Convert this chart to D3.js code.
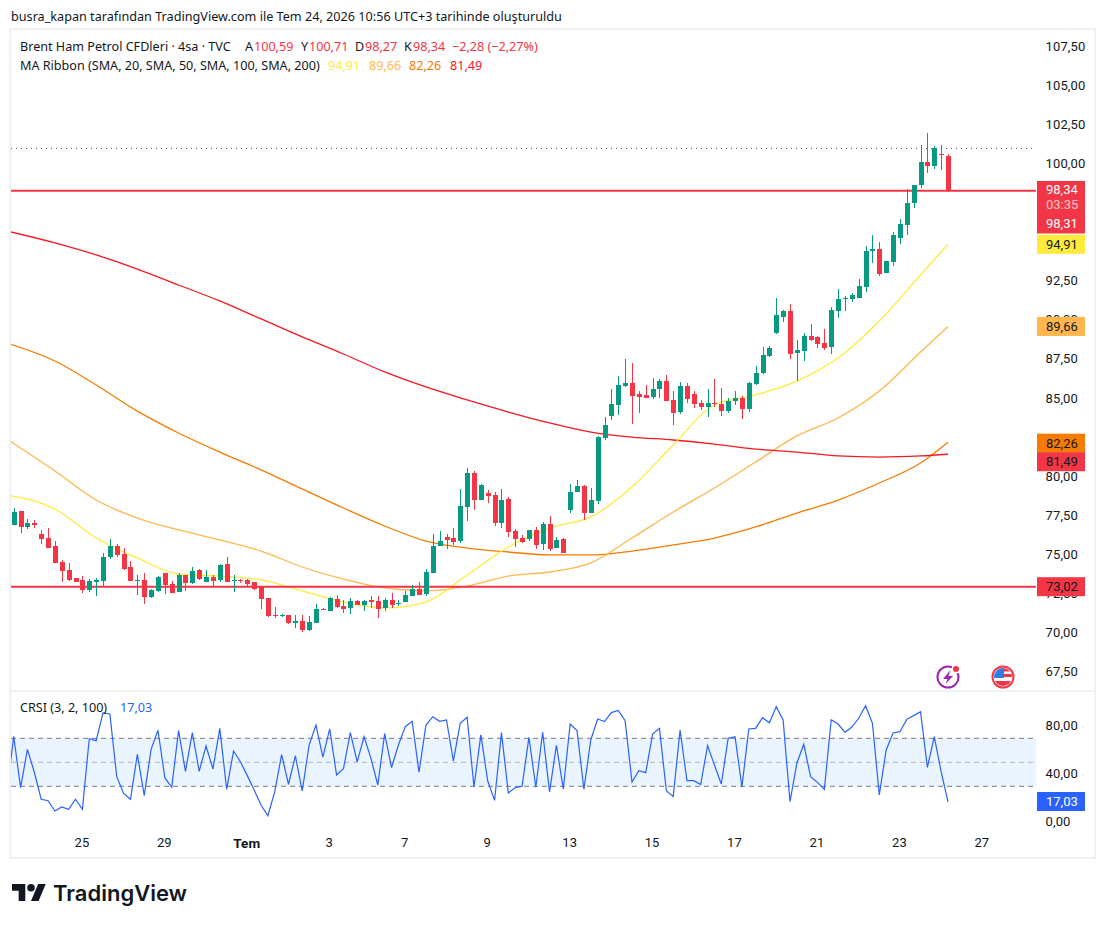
<!DOCTYPE html>
<html>
<head>
<meta charset="utf-8">
<title>Brent Ham Petrol CFDleri</title>
<script src="https://cdn.jsdelivr.net/npm/d3@7"></script>
<style>
  html, body { margin: 0; padding: 0; background: #fff; }
  svg { display: block; }
  text { font-family: "Noto Sans", Roboto, sans-serif; font-size: 12.6px; fill: #131722; }
  .axis text { fill: #131722; font-size: 13px; font-family: Roboto, sans-serif; letter-spacing: 0.15px; }
  .axis path, .axis line { display: none; }
</style>
</head>
<body>
<svg id="chart" width="1106" height="925"></svg>
<script>
// candles, bar 0 is the first one on the left
const opens = [76.96,77.86,76.83,77.09,76.39,76.13,75.62,74.60,74.08,73.57,73.45,72.81,73.32,73.38,74.92,75.62,75.11,74.28,73.38,73.45,72.36,72.74,73.89,73.19,72.68,73.77,73.25,74.08,73.32,73.64,73.45,74.47,73.38,73.47,73.45,73.32,73.00,72.29,71.21,71.14,71.21,70.70,70.82,70.25,70.70,71.61,71.46,72.23,71.78,71.66,72.10,71.85,72.17,72.10,71.66,72.17,71.91,72.04,72.42,72.87,72.55,73.89,75.62,76.19,76.13,75.94,78.12,80.29,78.57,79.01,78.88,77.09,78.63,76.58,76.13,76.07,76.65,75.75,77.03,75.50,76.07,77.93,79.08,79.46,77.73,78.50,82.52,83.93,84.63,85.85,86.04,85.34,85.27,85.15,85.66,86.17,84.95,84.19,85.85,85.34,84.76,84.51,84.76,84.70,84.25,84.89,85.08,84.38,85.98,86.68,87.77,89.24,90.26,90.65,87.96,88.09,89.05,88.99,88.60,88.35,90.65,91.42,91.42,91.48,92.18,94.48,94.61,93.08,93.78,95.31,96.15,97.55,98.70,100.17,99.92,100.69,100.59];
const highs = [78.05,77.86,77.35,77.28,76.64,76.77,75.94,74.72,74.53,73.57,73.70,73.51,73.57,75.17,76.07,75.75,75.49,74.66,73.77,73.89,72.87,73.70,73.89,73.38,73.89,73.77,74.28,74.15,74.08,73.77,74.47,74.92,73.77,73.53,73.51,73.32,73.00,72.29,71.72,71.27,71.21,71.21,71.21,71.14,71.91,71.66,72.36,72.49,72.17,72.29,72.17,72.17,72.42,72.42,72.29,72.61,72.17,72.74,73.13,73.32,74.15,76.39,76.58,76.39,76.77,79.27,80.61,80.42,79.59,79.20,79.08,79.27,78.76,76.71,76.33,76.65,76.84,77.16,77.54,76.20,76.14,79.59,79.84,79.52,79.33,82.66,83.87,85.66,86.49,87.58,87.32,85.53,85.91,86.36,86.30,86.55,85.53,86.10,86.04,85.53,84.95,85.66,86.30,85.72,85.08,85.53,85.21,86.10,87.13,88.34,88.41,91.48,90.71,91.10,88.79,89.24,89.82,89.05,89.50,90.90,92.06,91.61,91.80,92.69,94.80,95.51,95.06,93.84,95.70,96.53,98.45,98.70,101.26,102.03,101.20,101.26,100.71];
const lows = [76.96,76.47,76.71,76.79,75.75,75.49,74.53,73.32,73.38,73.32,72.61,72.68,72.42,73.06,74.79,74.92,74.08,73.38,72.49,71.91,72.29,72.68,72.55,72.61,72.68,72.74,73.19,73.45,73.32,73.00,73.32,73.32,72.68,73.28,73.06,72.81,71.59,71.08,71.02,71.08,70.63,70.38,70.12,70.18,70.70,71.53,71.46,71.66,71.34,71.27,71.85,71.46,71.66,71.02,71.46,71.66,71.78,72.04,72.42,72.49,72.42,73.89,75.62,75.43,75.68,75.81,77.22,77.93,78.57,78.37,76.90,76.77,76.20,75.56,75.82,75.94,75.43,75.37,75.30,75.50,75.18,77.73,79.08,77.29,77.73,78.31,82.40,83.68,84.00,85.78,83.42,84.12,85.08,85.02,85.08,84.89,83.36,84.06,84.76,84.44,84.31,83.87,84.51,83.93,84.12,84.63,83.74,84.19,85.91,86.62,87.70,89.18,89.95,87.58,86.17,87.45,88.73,88.28,88.15,87.90,90.20,90.65,91.22,91.48,91.86,93.72,92.89,93.08,93.53,94.93,95.51,97.23,98.51,99.47,99.73,99.66,98.27];
const closes = [77.79,76.86,77.09,76.96,76.07,75.49,74.53,74.02,73.45,73.32,72.81,73.38,73.45,74.92,75.62,75.04,74.15,73.38,73.45,72.36,72.81,73.64,73.13,72.61,73.77,73.25,74.02,73.51,73.64,73.38,74.40,73.32,73.45,73.38,73.19,72.89,72.23,71.14,71.14,71.21,70.70,70.82,70.25,70.76,71.59,71.53,72.29,71.72,71.59,72.10,71.85,72.10,72.04,71.59,72.17,71.85,71.98,72.49,72.87,72.49,73.96,75.62,75.94,76.00,75.88,78.18,80.29,78.57,79.52,78.82,77.09,78.57,76.52,76.07,75.88,76.65,75.69,77.03,75.43,76.01,75.18,79.08,79.46,77.73,78.57,82.59,83.36,84.70,85.91,86.04,85.21,85.15,85.08,85.66,86.17,84.89,84.12,85.85,85.02,84.70,84.51,84.76,84.70,84.25,84.89,85.08,84.38,86.04,86.68,87.83,88.28,90.39,90.65,87.90,88.15,89.05,88.79,88.54,88.28,90.71,91.42,91.48,91.67,92.25,94.48,94.61,93.01,93.84,95.51,96.21,97.55,98.70,100.17,99.92,101.07,100.62,98.34];

const maBars = [-1,6,12,18,24,30,36,42,48,54,60,66,72,78,84,90,96,102,108,114,120,126,132,136];
const ma20 = [78.88,77.99,76.13,74.86,73.83,73.70,73.45,72.75,72.04,71.66,72.04,73.77,75.56,76.77,77.48,79.39,82.08,84.64,85.28,86.17,87.64,90.01,92.95,94.91];
const ma50 = [82.46,80.42,78.56,77.41,76.65,76.01,75.30,74.28,73.51,72.94,72.75,73.06,73.70,73.96,74.54,76.13,77.80,79.33,80.99,82.66,83.81,85.53,88.03,89.66];
const ma100 = [88.60,87.45,85.92,84.25,82.85,81.63,80.49,79.27,78.05,76.90,75.94,75.49,75.24,75.05,75.05,75.30,75.69,76.13,76.84,77.73,78.56,79.65,80.93,82.26];
const ma200 = [95.76,95.00,94.23,93.33,92.31,91.29,90.14,88.99,87.90,86.75,85.79,84.96,84.19,83.49,82.91,82.59,82.40,82.14,81.82,81.63,81.38,81.31,81.38,81.49];

// CRSI, from bar -1 up to the last bar
const crsi = [24,71.7,28.9,60.8,41.7,19.2,18.0,9.4,12.8,10.8,19.2,10.8,69.7,68.0,91.1,90.3,38.0,24.1,19.2,56.7,22.2,60.8,76.7,37.2,29.2,76.4,42.5,74.7,42.5,63.6,44.4,78.3,27.5,59.4,50.5,38.9,26.9,14.4,5.5,25.5,56.4,31.7,55.3,26.1,64.4,81.1,54.4,77.8,39.4,44.7,74.7,50.3,71.4,53.3,31.1,73.9,45.5,64.4,79.7,84.2,41.7,80.8,88.0,84.2,85.3,51.1,82.5,87.5,29.4,72.8,34.4,18.3,74.7,24.4,28.9,30.0,70.8,29.2,75.0,25.3,64.2,27.8,81.9,76.4,27.5,68.6,86.1,83.9,91.4,93.3,84.7,33.6,43.0,41.4,73.6,78.3,26.4,21.4,76.9,34.7,34.7,31.4,63.9,47.8,31.9,70.0,71.4,29.4,77.8,78.3,87.2,83.0,96.4,85.3,17.2,49.2,65.0,38.0,33.3,27.5,85.5,81.9,75.0,79.4,86.7,97.2,82.5,22.8,60.3,74.4,75.5,85.8,88.9,92.2,45.8,71.4,42.2,17.03];

// axis labels, the ones fully behind a price box are left out
const priceTicks = [107.5,105,102.5,100,92.5,90,87.5,85,80,77.5,75,72.5,70,67.5];
const crsiTicks = [80,40,0];
const timeBars = [10,22,34,46,57,69,81,93,105,117,129,141];
const timeLabels = ["25","29","Tem","3","7","9","13","15","17","21","23","27"];

const hLines = [98.34, 73.02];
const priceBoxes = [
  { v: 94.91, label: "94,91", bg: "#ffeb3b", fg: "#131722" },
  { v: 89.66, label: "89,66", bg: "#ffb74d", fg: "#131722" },
  { v: 82.26, label: "82,26", bg: "#f57c00", fg: "#131722" },
  { v: 81.49, label: "81,49", bg: "#f23645", fg: "#131722" },
  { v: 73.02, label: "73,02", bg: "#f23645", fg: "#131722" }
];

const colors = { up: "#089981", down: "#f23645", ma20: "#ffeb3b", ma50: "#ffb74d", ma100: "#f57c00", ma200: "#f7171f", crsi: "#2962ff" };

const svg = d3.select("#chart");
const plot = { left: 11, right: 1036, top: 30, mid: 691, bottom: 858, edge: 1095 };

const x = d3.scaleLinear().domain([0, 136]).range([13.7, 948]);
const y = d3.scaleLinear().domain([73.02, 98.34]).range([586.7, 190.7]);
const yc = d3.scaleLinear().domain([0, 80]).range([822.3, 726.3]);
const fmt = v => d3.format(".2f")(v).replace(".", ",");

// frame
svg.append("rect").attr("x", plot.left - 1).attr("y", plot.top - 1)
  .attr("width", plot.edge - plot.left + 1).attr("height", plot.bottom - plot.top + 1)
  .attr("fill", "none").attr("stroke", "#eef0f5").attr("stroke-width", 2);
svg.append("line").attr("x1", plot.left).attr("x2", plot.edge).attr("y1", plot.mid).attr("y2", plot.mid)
  .attr("stroke", "#e0e3eb").attr("stroke-width", 1);

svg.append("defs").append("clipPath").attr("id", "plotClip").append("rect")
  .attr("x", plot.left).attr("y", plot.top).attr("width", plot.right - plot.left).attr("height", plot.bottom - plot.top);

const g = svg.append("g").attr("clip-path", "url(#plotClip)");

// MA ribbon
const maLine = d3.line().x((d, i) => x(maBars[i])).y(d => y(d)).curve(d3.curveMonotoneX);
[[ma100, colors.ma100], [ma50, colors.ma50], [ma200, colors.ma200], [ma20, colors.ma20]].forEach(([vals, c]) => {
  g.append("path").attr("d", maLine(vals)).attr("fill", "none").attr("stroke", c).attr("stroke-width", 1.3);
});

// dotted line and the two red levels
g.append("line").attr("x1", plot.left).attr("x2", plot.right).attr("y1", 148.5).attr("y2", 148.5)
  .attr("stroke", "#6f4a50").attr("stroke-width", 1).attr("stroke-dasharray", "1 4");
g.selectAll(".level").data(hLines).enter().append("line").attr("class", "level")
  .attr("x1", plot.left).attr("x2", plot.right).attr("y1", d => y(d)).attr("y2", d => y(d))
  .attr("stroke", colors.down).attr("stroke-width", 2);

// candles
const bars = d3.range(opens.length);
const candle = g.selectAll(".candle").data(bars).enter().append("g").attr("class", "candle")
  .attr("fill", i => closes[i] >= opens[i] ? colors.up : colors.down);
candle.append("rect").attr("shape-rendering", "crispEdges")
  .attr("x", i => Math.round(x(i)) - 0.5).attr("width", 1)
  .attr("y", i => y(highs[i])).attr("height", i => y(lows[i]) - y(highs[i]));
candle.append("rect").attr("shape-rendering", "crispEdges")
  .attr("x", i => Math.round(x(i)) - 2.5).attr("width", 5)
  .attr("y", i => y(Math.max(opens[i], closes[i])))
  .attr("height", i => Math.max(1, Math.abs(y(opens[i]) - y(closes[i]))));

// CRSI pane
g.append("rect").attr("x", plot.left).attr("width", plot.right - plot.left)
  .attr("y", yc(70)).attr("height", yc(30) - yc(70)).attr("fill", "#e9f4fe");
[[70, "#787b86"], [50, "#b4b6bd"], [30, "#787b86"]].forEach(([v, c]) => {
  g.append("line").attr("x1", plot.left).attr("x2", plot.right).attr("y1", yc(v)).attr("y2", yc(v))
    .attr("stroke", c).attr("stroke-width", 1).attr("stroke-dasharray", "5 4");
});
const crsiLine = d3.line().x((d, i) => x(i - 1)).y(d => yc(d));
g.append("path").attr("d", crsiLine(crsi)).attr("fill", "none").attr("stroke", colors.crsi).attr("stroke-width", 1.2);

// axes
svg.append("g").attr("class", "axis").attr("transform", "translate(1041.5,-1.5)")
  .call(d3.axisRight(y).tickValues(priceTicks).tickSize(0).tickPadding(4).tickFormat(fmt));
svg.append("g").attr("class", "axis").attr("transform", "translate(1041.5,-1)")
  .call(d3.axisRight(yc).tickValues(crsiTicks).tickSize(0).tickPadding(4).tickFormat(fmt));
const timeAxis = svg.append("g").attr("class", "axis").attr("transform", "translate(-1,834)")
  .call(d3.axisBottom(x).tickValues(timeBars).tickSize(0).tickPadding(4).tickFormat((d, i) => timeLabels[i]));
timeAxis.selectAll("text").filter(d => d === 34)
  .style("font-weight", 700).style("font-size", "13.5px");

// price boxes
function box(yTop, h, bg) {
  svg.append("rect").attr("x", 1037).attr("y", yTop).attr("width", 48).attr("height", h).attr("fill", bg);
}
function boxText(cy, str, fill) {
  svg.append("text").attr("x", 1046).attr("y", cy).attr("dy", "0.35em")
    .style("font-family", "Roboto, sans-serif").style("font-size", "13px").style("fill", fill).text(str);
}
box(181, 52.5, colors.down);
boxText(189.5, "98,34", "#fff");
boxText(204.5, "03:35", "#fcc4c9");
boxText(223.5, "98,31", "#fff");
priceBoxes.forEach(b => {
  const cy = b.v === 81.49 ? y(b.v) + 7.5 : b.v === 82.26 ? y(b.v) + 1 : y(b.v);
  box(cy - 9.5, 19, b.bg);
  boxText(cy, b.label, b.fg);
});
box(792, 19, colors.crsi);
boxText(801.5, "17,03", "#fff");

// header texts
svg.append("text").attr("x", 11).attr("y", 17).attr("dy", "0.35em").style("font-size", "12.65px")
  .text("busra_kapan tarafından TradingView.com ile Tem 24, 2026 10:56 UTC+3 tarihinde oluşturuldu");

function legend(yPos, parts) {
  parts.forEach(p => {
    svg.append("text").attr("x", p[0]).attr("y", yPos).attr("dy", "0.35em")
      .style("fill", p[2] || "#131722").text(p[1]);
  });
}
legend(47, [
  [20, "Brent Ham Petrol CFDleri · 4sa · TVC"],
  [245, "A"], [254, "100,59", colors.down],
  [301, "Y"], [309, "100,71", colors.down],
  [355, "D"], [365, "98,27", colors.down],
  [404, "K"], [413, "98,34", colors.down],
  [452, "−2,28 (−2,27%)", colors.down]
]);
legend(66, [
  [20, "MA Ribbon (SMA, 20, SMA, 50, SMA, 100, SMA, 200)"],
  [328, "94,91", colors.ma20], [369, "89,66", colors.ma50], [409, "82,26", colors.ma100], [450, "81,49", colors.ma200]
]);
legend(708, [[20, "CRSI (3, 2, 100)"], [120, "17,03", colors.crsi]]);

// lightning icon
const bolt = svg.append("g").attr("transform", "translate(948,677)");
bolt.append("circle").attr("r", 10.5).attr("fill", "#fff").attr("stroke", "#9c27b0").attr("stroke-width", 2);
bolt.append("path").attr("d", "M2.5 -7 L-5 2 L-0.5 2 L-2.5 7 L5 -1 L0.5 -1 Z").attr("fill", "#9c27b0");
bolt.append("circle").attr("cx", 8).attr("cy", -8).attr("r", 4.5).attr("fill", "#fff");
bolt.append("circle").attr("cx", 8).attr("cy", -8).attr("r", 3).attr("fill", "#f23645");

// flag icon
const flag = svg.append("g").attr("transform", "translate(1003,677)");
flag.append("clipPath").attr("id", "flagClip").append("circle").attr("r", 9);
flag.append("circle").attr("r", 11.5).attr("fill", "#f23645");
flag.append("circle").attr("r", 9.5).attr("fill", "#fff");
const fl = flag.append("g").attr("clip-path", "url(#flagClip)");
fl.append("rect").attr("x", -9).attr("y", -9).attr("width", 18).attr("height", 3.5).attr("fill", "#f23645");
fl.append("rect").attr("x", 0).attr("y", -3).attr("width", 9).attr("height", 3).attr("fill", "#f23645");
fl.append("rect").attr("x", -9).attr("y", 4).attr("width", 18).attr("height", 5).attr("fill", "#f23645");
fl.append("rect").attr("x", -9).attr("y", -9).attr("width", 10).attr("height", 10).attr("fill", "#2e7de1");

// logo
const logo = svg.append("g").attr("transform", "translate(12,880.2) scale(0.95)").attr("fill", "#131722");
logo.append("path").attr("d", "M14 22H7V11H0V4h14v18zM28 22h-8l7.5-18h8L28 22z");
logo.append("circle").attr("cx", 20).attr("cy", 8).attr("r", 4);
svg.append("text").attr("x", 53).attr("y", 900.5).style("font-size", "22px").style("font-weight", 600)
  .style("font-family", "Inter, Roboto, sans-serif").text("TradingView");
</script>
</body>
</html>
